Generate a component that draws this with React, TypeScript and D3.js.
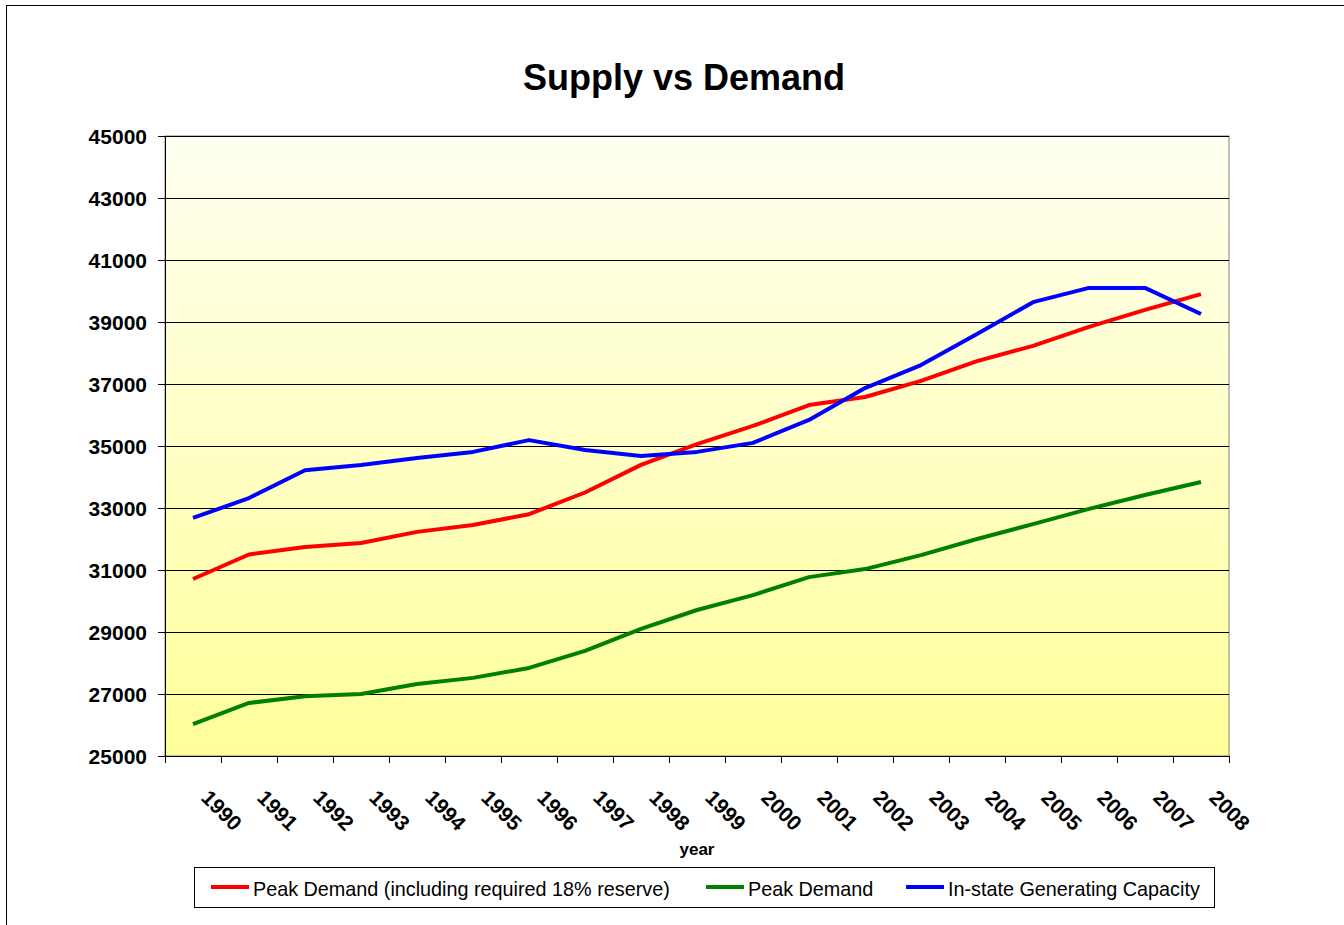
import React from "react";
import { scaleBand, scaleLinear, line, range } from "d3";

const years = [
  "1990", "1991", "1992", "1993", "1994", "1995", "1996", "1997", "1998", "1999",
  "2000", "2001", "2002", "2003", "2004", "2005", "2006", "2007", "2008",
];

// Peak Demand (including required 18% reserve)
const peakReserve = [
  30710, 31500, 31740, 31870, 32230, 32450, 32800, 33500, 34390, 35060,
  35650, 36320, 36580, 37100, 37740, 38230, 38840, 39390, 39900,
];

// Peak Demand
const peakDemand = [
  26030, 26710, 26930, 27000, 27320, 27520, 27840, 28390, 29100, 29710,
  30190, 30770, 31030, 31480, 32000, 32480, 32970, 33420, 33840,
];

// In-state Generating Capacity
const capacity = [
  32680, 33320, 34220, 34390, 34610, 34810, 35190, 34870, 34680, 34810,
  35100, 35840, 36870, 37610, 38610, 39640, 40100, 40100, 39260,
];

const yTicks = range(25000, 45001, 2000);

const series = [
  { name: "Peak Demand (including required 18% reserve)", values: peakReserve, color: "#FF0000" },
  { name: "Peak Demand", values: peakDemand, color: "#008000" },
  { name: "In-state Generating Capacity", values: capacity, color: "#0000FF" },
];

const legendItems = [
  { idx: 0, x: 211 },
  { idx: 1, x: 706 },
  { idx: 2, x: 906 },
];

const font = "'Liberation Sans', Arial, sans-serif";

export default function App() {
  const left = 165;
  const right = 1229;
  const top = 136;
  const bottom = 756;

  const x = scaleBand<string>().domain(years).range([left, right]).padding(0);
  const y = scaleLinear().domain([25000, 45000]).range([bottom, top]);
  const cx = (d: string) => (x(d) as number) + x.bandwidth() / 2;

  const makeLine = (vals: number[]) =>
    line<number>()
      .x((_, i) => cx(years[i]))
      .y((v) => y(v))(vals) as string;

  const boundaries = years.map((d) => x(d) as number).concat([right]);

  return (
    <div style={{ position: "absolute", left: 0, top: 0 }}>
      <svg width={1344} height={925} style={{ display: "block", fontFamily: font }}>
        <defs>
          <linearGradient id="plotBg" x1="0" y1="0" x2="0" y2="1">
            <stop offset="0%" stopColor="#FFFFF2" />
            <stop offset="100%" stopColor="#FFFF99" />
          </linearGradient>
        </defs>
        <rect x={0} y={0} width={1344} height={925} fill="#fff" />
        {/* chart area border */}
        <rect x={6.5} y={5.5} width={1400} height={1000} fill="none" stroke="#000" strokeWidth={1} />

        <text x={684} y={90} textAnchor="middle" fontSize={36} fontWeight="bold" fill="#000">
          Supply vs Demand
        </text>

        {/* plot area */}
        <rect x={left} y={top} width={right - left} height={bottom - top} fill="url(#plotBg)" stroke="#808080" strokeWidth={1} />

        {/* gridlines */}
        {yTicks.map((t) => (
          <line key={t} x1={left} x2={right} y1={Math.round(y(t)) + 0.5} y2={Math.round(y(t)) + 0.5} stroke="#000" strokeWidth={1} />
        ))}

        {/* y axis */}
        <line x1={left + 0.5} x2={left + 0.5} y1={top} y2={bottom + 7} stroke="#000" />
        {yTicks.map((t) => (
          <g key={t}>
            <line x1={left - 7} x2={left} y1={Math.round(y(t)) + 0.5} y2={Math.round(y(t)) + 0.5} stroke="#000" />
            <text x={147} y={y(t) + 7.5} textAnchor="end" fontSize={21} fontWeight="bold" fill="#000">
              {t}
            </text>
          </g>
        ))}

        {/* x axis */}
        <line x1={left} x2={right} y1={bottom + 0.5} y2={bottom + 0.5} stroke="#000" />
        {boundaries.map((b, i) => (
          <line key={i} x1={Math.round(b) + 0.5} x2={Math.round(b) + 0.5} y1={bottom} y2={bottom + 7} stroke="#000" />
        ))}
        {years.map((d) => (
          <text
            key={d}
            transform={`translate(${cx(d) + 7},${799}) rotate(45)`}
            fontSize={21}
            fontWeight="bold"
            fill="#000"
          >
            {d}
          </text>
        ))}
        <text x={697} y={855} textAnchor="middle" fontSize={17} fontWeight="bold" fill="#000">
          year
        </text>

        {/* series */}
        {series.map((s) => (
          <path key={s.name} d={makeLine(s.values)} fill="none" stroke={s.color} strokeWidth={4} strokeLinejoin="round" />
        ))}

        {/* legend */}
        <rect x={194.5} y={867.5} width={1020} height={40} fill="#fff" stroke="#000" strokeWidth={1} />
        {legendItems.map((it) => {
          const s = series[it.idx];
          return (
            <g key={s.name}>
              <line x1={it.x} x2={it.x + 38} y1={887} y2={887} stroke={s.color} strokeWidth={4} />
              <text x={it.x + 42} y={896} fontSize={19.8} fill="#000">
                {s.name}
              </text>
            </g>
          );
        })}
      </svg>
    </div>
  );
}
